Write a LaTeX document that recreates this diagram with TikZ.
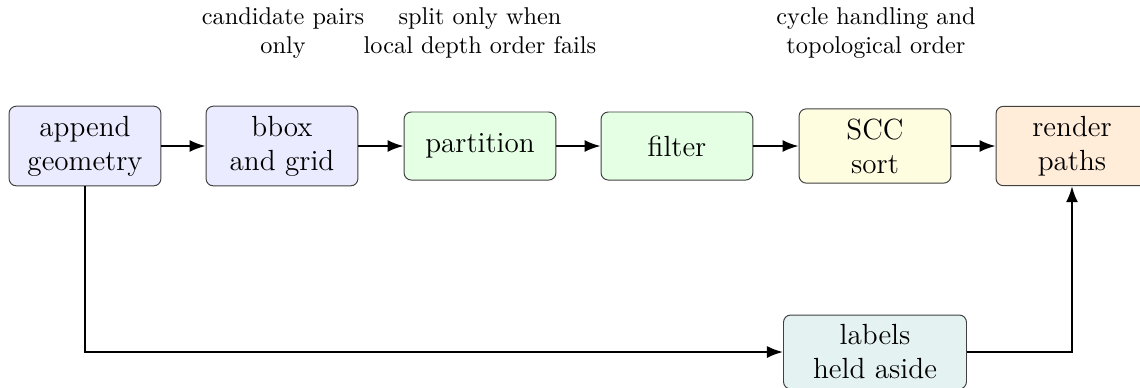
\documentclass[tikz,border=0pt]{standalone}
\usetikzlibrary{arrows.meta}
\begin{document}
\begin{tikzpicture}[x=0.4115pt,y=-0.4115pt,
  stagebox/.style={draw=black!75, rounded corners=3pt, align=center, font=\large,
    minimum width=62.5pt, minimum height=28pt, inner sep=4pt},
  note/.style={align=center, font=\normalsize},
  flow/.style={-{Latex}, thick}]
\useasboundingbox (0,0) rectangle (1140,387);
\node[stagebox, fill=blue!8] (append) at (85,146) {append\\geometry};
\node[stagebox, fill=blue!8] (bbox) at (282,146) {bbox\\and grid};
\node[stagebox, fill=green!10] (part) at (480,146) {partition};
\node[stagebox, fill=green!10] (filter) at (677,146) {filter};
\node[stagebox, fill=yellow!12] (scc) at (875,146) {SCC\\sort};
\node[stagebox, fill=orange!15] (render) at (1072,146) {render\\paths};
\node[stagebox, fill=teal!10, minimum width=75.3pt] (labels) at (875,352) {labels\\held aside};
\node[note] (n1) at (283,33) {candidate pairs\\only};
\node[note] (n2) at (480,33) {split only when\\local depth order fails};
\node[note] (n3) at (876,33) {cycle handling and\\topological order};
\draw[flow] (append) -- (bbox);
\draw[flow] (bbox) -- (part);
\draw[flow] (part) -- (filter);
\draw[flow] (filter) -- (scc);
\draw[flow] (scc) -- (render);
\draw[flow] (append.south) |- (labels.west);
\draw[flow] (labels.east) -| (render.south);
\end{tikzpicture}
\end{document}
